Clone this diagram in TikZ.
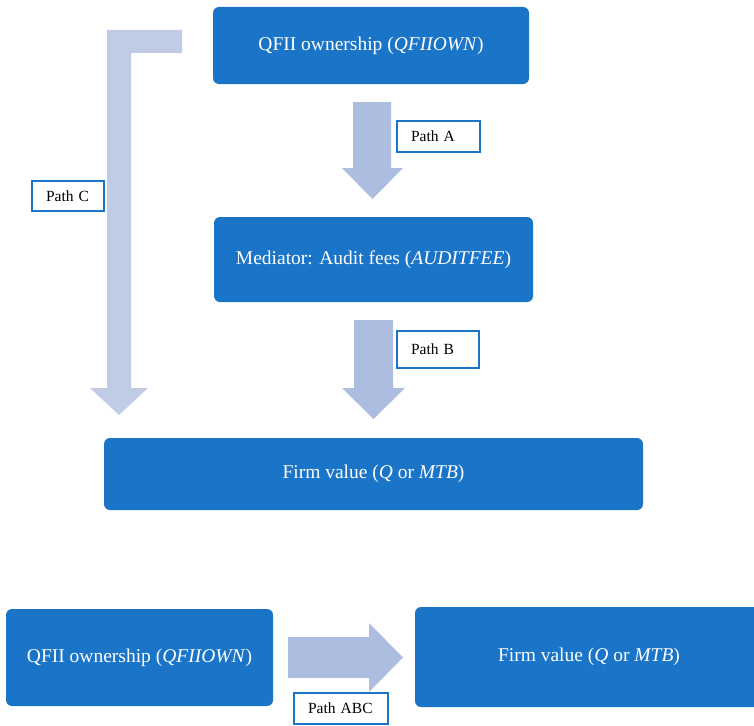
\documentclass[tikz,border=0pt]{standalone}
\usepackage{fontspec}
\setmainfont{Liberation Serif}
\definecolor{boxblue}{HTML}{1A74C8}
\definecolor{arrowblue}{HTML}{ADBDE0}
\definecolor{arrowlight}{HTML}{C0CBE6}
\begin{document}
\begin{tikzpicture}[x=1pt,y=-1pt,
  bigbox/.style={fill=boxblue, draw=none, rounded corners=6pt, text=white,
    font=\fontsize{19.5}{23}\selectfont, inner sep=0pt},
  lbl/.style={draw=boxblue, line width=1.3pt, fill=white, inner xsep=14pt, inner ysep=0pt,
    align=left, font=\fontsize{15.5}{18}\selectfont, text=black},
  blockarrow/.style={fill=arrowblue, draw=none}]
\useasboundingbox (0,0) rectangle (754,725);
\begin{scope}
\clip (0,0) rectangle (754,725);
% Top diagram boxes
\node[bigbox, minimum width=316pt, minimum height=77pt] (q1) at (371,45.5) {QFII ownership (\textit{QFIIOWN})};
\node[bigbox, minimum width=319pt, minimum height=85pt] (med) at (373.5,259.5) {Mediator: Audit fees (\textit{AUDITFEE})};
\node[bigbox, minimum width=539pt, minimum height=72pt] (fv) at (373.5,474) {Firm value (\textit{Q} or \textit{MTB})};
% Bottom diagram boxes
\node[bigbox, minimum width=267pt, minimum height=97pt] (q2) at (139.5,657.5) {QFII ownership (\textit{QFIIOWN})};
\node[bigbox, minimum width=348pt, minimum height=100pt] (fv2) at (589,657) {Firm value (\textit{Q} or \textit{MTB})};
\end{scope}
% Path A arrow
\fill[blockarrow] (353,102) -- (391,102) -- (391,168) -- (403,168) -- (372.5,199) -- (342,168) -- (353,168) -- cycle;
% Path B arrow
\fill[blockarrow] (354,320) -- (393,320) -- (393,388) -- (405,388) -- (373.5,419) -- (342,388) -- (354,388) -- cycle;
% Path C arrow (L-shaped)
\fill[fill=arrowlight] (182,30) -- (107,30) -- (107,388) -- (90,388) -- (119,415) -- (148,388) -- (131,388) -- (131,53) -- (182,53) -- cycle;
% Path ABC arrow
\fill[blockarrow] (288,637) -- (369,637) -- (369,623) -- (403,657.5) -- (369,692) -- (369,678) -- (288,678) -- cycle;
% Labels
\node[lbl, text width=55pt, minimum height=31pt] (la) at (438.5,136.5) {Path A};
\node[lbl, text width=54pt, minimum height=37pt] (lb) at (438,349.5) {Path B};
\node[lbl, text width=44pt, minimum height=30pt] (lc) at (68,196) {Path C};
\node[lbl, text width=66pt, minimum height=31pt] (labc) at (341,708.5) {Path ABC};
\end{tikzpicture}
\end{document}
